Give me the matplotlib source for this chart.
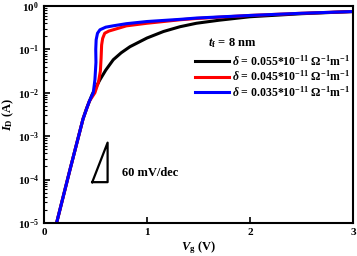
import matplotlib.pyplot as plt
from matplotlib.ticker import LogLocator, NullFormatter

plt.rcParams['font.family'] = ['Liberation Serif', 'DejaVu Serif']
plt.rcParams['font.weight'] = 'bold'
plt.rcParams['mathtext.fontset'] = 'custom'
plt.rcParams['mathtext.rm'] = 'Liberation Serif:bold'
plt.rcParams['mathtext.bf'] = 'Liberation Serif:bold'
plt.rcParams['mathtext.it'] = 'Liberation Serif:italic:bold'

# valeurs (Vg en V, log10 de ID en A)
vg_black = [0.123, 0.25, 0.38, 0.414, 0.47, 0.544, 0.6, 0.673, 0.75, 0.835,
            1.0, 1.16, 1.32, 1.48, 1.7, 2.0, 2.5, 3.0]
log_id_black = [-5.0, -3.8, -2.6, -2.36, -2.03, -1.70, -1.48, -1.24, -1.08, -0.94,
                -0.74, -0.59, -0.48, -0.40, -0.33, -0.25, -0.18, -0.13]

vg_red = [0.123, 0.25, 0.38, 0.44, 0.495, 0.53, 0.548, 0.555, 0.56, 0.57, 0.59,
          0.63, 0.673, 0.8, 1.0, 1.32, 1.48, 2.0, 2.5, 3.0]
log_id_red = [-5.0, -3.8, -2.6, -2.2, -2.0, -1.75, -1.5, -1.2, -0.9, -0.75, -0.63,
              -0.58, -0.55, -0.46, -0.40, -0.32, -0.29, -0.22, -0.17, -0.13]

vg_blue = [0.123, 0.25, 0.38, 0.44, 0.479, 0.495, 0.505, 0.503, 0.507, 0.52, 0.544,
           0.6, 0.67, 0.8, 1.0, 1.32, 1.48, 2.0, 2.5, 3.0]
log_id_blue = [-5.0, -3.8, -2.6, -2.2, -2.0, -1.7, -1.3, -1.0, -0.78, -0.63, -0.55,
               -0.49, -0.46, -0.41, -0.36, -0.31, -0.28, -0.22, -0.17, -0.13]

labels = [r'$\delta$ = 0.055*10$^{-11}$ $\Omega^{-1}$m$^{-1}$',
          r'$\delta$ = 0.045*10$^{-11}$ $\Omega^{-1}$m$^{-1}$',
          r'$\delta$ = 0.035*10$^{-11}$ $\Omega^{-1}$m$^{-1}$']

# triangle de pente
tri_vg = [0.469, 0.618, 0.618, 0.469]
tri_log = [-4.06, -4.06, -3.15, -4.06]

fig = plt.figure(figsize=(3.57, 2.56), dpi=100)
ax = fig.add_axes([0.123, 0.129, 0.866, 0.848])

for vg, lg, c, lab in [(vg_black, log_id_black, 'black', labels[0]),
                       (vg_red, log_id_red, 'red', labels[1]),
                       (vg_blue, log_id_blue, 'blue', labels[2])]:
    ax.plot(vg, [10 ** v for v in lg], color=c, lw=2.2, label=lab)

ax.plot(tri_vg, [10 ** v for v in tri_log], color='black', lw=1.6)
ax.text(0.76, 10 ** -3.85, '60 mV/dec', fontsize=9, fontweight='bold', va='center')

ax.set_yscale('log')
ax.set_xlim(0, 3)
ax.set_ylim(1e-5, 1)
ax.set_xticks([0, 1, 2, 3])
ax.set_xticklabels(['0', '1', '2', '3'])
ax.yaxis.set_minor_locator(LogLocator(base=10, subs=range(2, 10)))
ax.yaxis.set_minor_formatter(NullFormatter())
ax.tick_params(direction='in', labelsize=8, width=1.2, length=4)
ax.tick_params(which='minor', direction='in', width=0.8, length=2)
for s in ax.spines.values():
    s.set_linewidth(1.5)

ax.set_xlabel(r'$\it{V}_{\rm g}$ (V)', fontsize=9, fontweight='bold', labelpad=2)
ax.set_ylabel(r'$\it{I}_{\rm D}$ (A)', fontsize=9, fontweight='bold', labelpad=1)

ax.text(1.59, 10 ** -0.85, r'$\it{t}_{\rm f}$ = 8 nm', fontsize=9, va='center')
ax.legend(loc='upper left', bbox_to_anchor=(0.489, 0.78), frameon=False,
          borderpad=0, borderaxespad=0, fontsize=8.5, handlelength=2.9,
          handletextpad=0.2, labelspacing=0.08)

fig.savefig('out.png', dpi=100)
